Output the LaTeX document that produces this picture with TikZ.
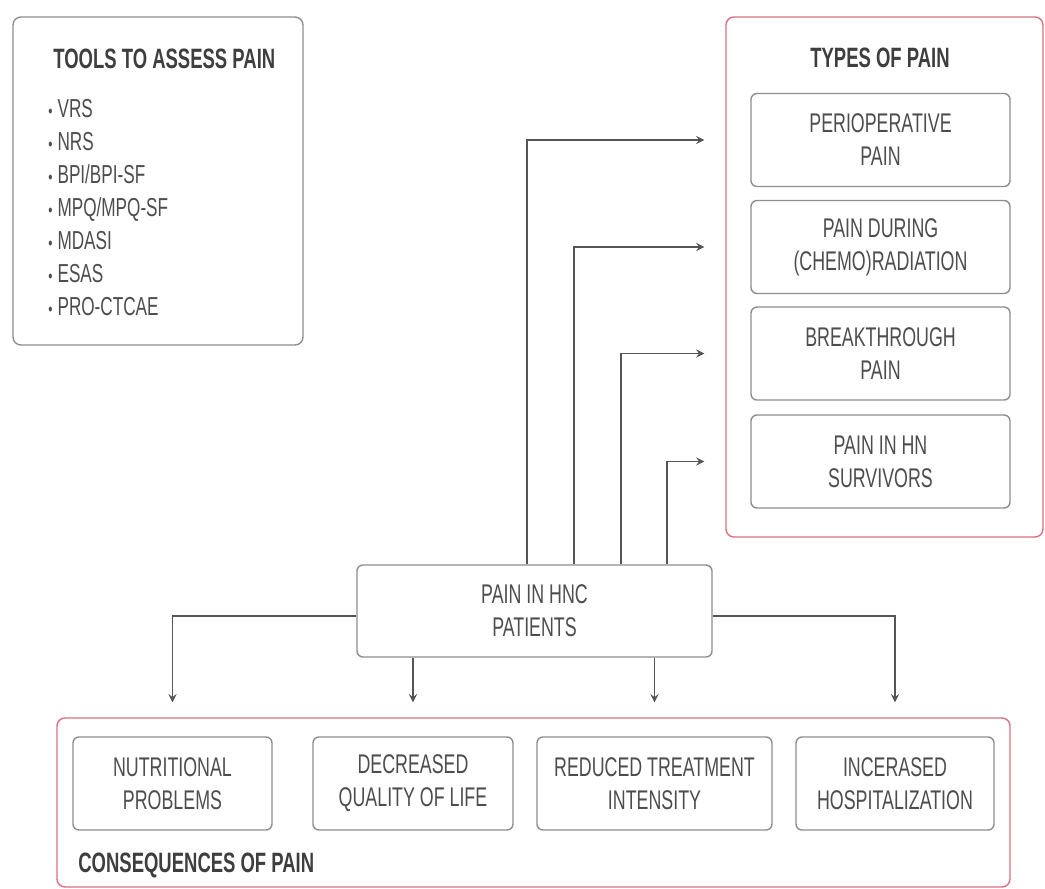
\documentclass[tikz,border=0pt]{standalone}
\usepackage{fontspec}
\setmainfont{Liberation Sans}[FakeStretch=0.66]
\usetikzlibrary{shapes.geometric, arrows}
\definecolor{boxgray}{HTML}{8E8E8E}
\definecolor{textgray}{HTML}{4D4D4D}
\definecolor{linegray}{HTML}{555555}
\definecolor{framered}{HTML}{D8707E}

\begin{document}
\begin{tikzpicture}
    [
        x=0.5pt, y=-0.5pt,
        every node/.style = {text=textgray, font=\fontsize{13.5}{16.5}\selectfont},
        square/.style = {draw=boxgray, shape=rectangle, rounded corners=3pt, minimum height=46.5pt, line width=0.7pt, align=center, inner sep=0pt},
        frame/.style = {draw=framered, shape=rectangle, rounded corners=4pt, line width=0.7pt, inner sep=0pt},
        heading/.style = {font=\bfseries\fontsize{14}{16.5}\selectfont, text=textgray!80!black, inner sep=0pt},
        link/.style = {draw=linegray, line width=0.8pt, -stealth},
    ]
    \useasboundingbox (0,0) rectangle (1045,889);

    \node[square, minimum width=145pt, minimum height=164pt, rounded corners=4pt] (tools) at (158,181) {};
    \node[heading, anchor=base west] (toolsh) at (53,68) {TOOLS TO ASSESS PAIN};
    \node[anchor=north west, align=left, inner sep=0pt, font=\fontsize{13}{16.5}\selectfont] (toolsl) at (48,99)
        {{\small\textbullet}\hspace{2.5pt}VRS\\ {\small\textbullet}\hspace{2.5pt}NRS\\ {\small\textbullet}\hspace{2.5pt}BPI/BPI-SF\\
         {\small\textbullet}\hspace{2.5pt}MPQ/MPQ-SF\\ {\small\textbullet}\hspace{2.5pt}MDASI\\ {\small\textbullet}\hspace{2.5pt}ESAS\\
         {\small\textbullet}\hspace{2.5pt}PRO-CTCAE};

    \node[frame, minimum width=158.5pt, minimum height=260pt] (types) at (884.5,277) {};
    \node[heading, anchor=base] (typesh) at (880,67.5) {TYPES OF PAIN};
    \node[square, minimum width=129.5pt] (0t) at (880.5,140)   {PERIOPERATIVE\\PAIN};
    \node[square, minimum width=129.5pt] (1t) at (880.5,247)   {PAIN DURING\\(CHEMO)RADIATION};
    \node[square, minimum width=129.5pt] (2t) at (880.5,353.5) {BREAKTHROUGH\\PAIN};
    \node[square, minimum width=129.5pt] (3t) at (880.5,461.5) {PAIN IN HN\\SURVIVORS};

    \node[square, minimum width=177.5pt, minimum height=46pt] (pain) at (534.5,611) {PAIN IN HNC\\PATIENTS};

    \node[frame, minimum width=476.5pt, minimum height=84.5pt] (cons) at (533.5,802.5) {};
    \node[square, minimum width=99.5pt]  (0c) at (172.5,783.5) {NUTRITIONAL\\PROBLEMS};
    \node[square, minimum width=100pt]   (1c) at (413,783.5)   {DECREASED\\QUALITY OF LIFE};
    \node[square, minimum width=117.5pt] (2c) at (654.5,783.5) {REDUCED TREATMENT\\INTENSITY};
    \node[square, minimum width=99pt]    (3c) at (895,783.5)   {INCERASED\\HOSPITALIZATION};
    \node[heading, anchor=base west] (consh) at (78,872.5) {CONSEQUENCES OF PAIN};

    \draw[link, shorten >=23pt] ([xshift=-3.75pt]pain.north) |- (0t);
    \draw[link, shorten >=23pt] ([xshift=19.75pt]pain.north) |- (1t);
    \draw[link, shorten >=23pt] ([xshift=43.25pt]pain.north) |- (2t);
    \draw[link, shorten >=23pt] ([xshift=66.25pt]pain.north) |- (3t);

    \draw[link, shorten >=17pt] ([yshift=-2.5pt]pain.west) -| (0c);
    \draw[link, shorten >=17pt] (pain.south -| 1c) -- (1c);
    \draw[link, shorten >=17pt] (pain.south -| 2c) -- (2c);
    \draw[link, shorten >=17pt] ([yshift=-2.5pt]pain.east) -| (3c);
\end{tikzpicture}
\end{document}
